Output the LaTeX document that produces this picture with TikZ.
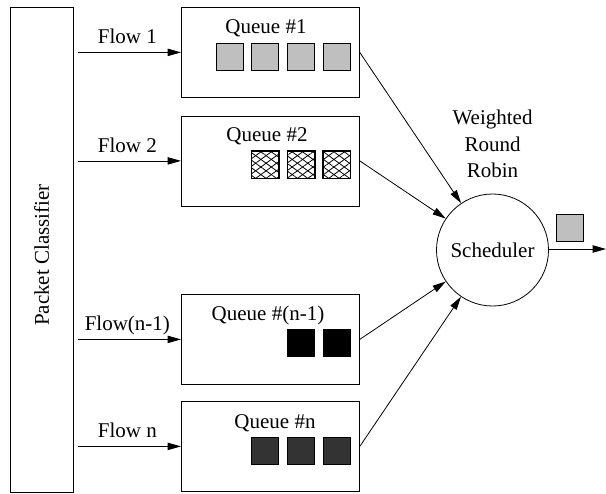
\documentclass[tikz,border=0pt]{standalone}
\usepackage{fontspec}
\setmainfont{Liberation Serif}
\usetikzlibrary{arrows.meta,patterns.meta}
\begin{document}
\begin{tikzpicture}[x=0.75pt,y=-0.75pt,
  font=\fontsize{15.75}{20}\selectfont,
  line width=0.6pt,
  qbox/.style={draw, minimum width=133.5pt, minimum height=67.5pt, inner sep=0pt, anchor=north west},
  pkt/.style={draw, minimum size=20.25pt, inner sep=0pt, line width=0.7pt},
  greypkt/.style={pkt, fill=black!25},
  blackpkt/.style={pkt, fill=black},
  darkpkt/.style={pkt, fill=black!80},
  flowarrow/.style={-{Triangle[length=10pt,width=5.5pt]}, shorten <=3pt},
  schedarrow/.style={-{Triangle[length=10pt,width=5.5pt]}},
  flowlabel/.style={anchor=base, inner sep=0pt},
  qlabel/.style={inner sep=0pt}
]
\useasboundingbox (0,0) rectangle (606,493);

% packet classifier
\node[draw, minimum width=47.25pt, minimum height=363.75pt, inner sep=0pt, anchor=north west] (cls) at (10,7) {};
\node[rotate=90] (clslabel) at (41.5,255) {Packet Classifier};

% queues
\node[qbox] (q1) at (181,7) {};
\node[qbox] (q2) at (181,115.5) {};
\node[qbox] (q3) at (181,294) {};
\node[qbox] (q4) at (181,401) {};

\node[qlabel] (q1label) at (266,28) {Queue \#1};
\node[qlabel] (q2label) at (267,136) {Queue \#2};
\node[qlabel] (q3label) at (268,315) {Queue \#(n-1)};
\node[qlabel] (q4label) at (275,423) {Queue \#n};

% queued packets
\node[greypkt] (a1) at (229.5,57) {};
\node[greypkt] (a2) at (265,57) {};
\node[greypkt] (a3) at (301,57) {};
\node[greypkt] (a4) at (336.5,57) {};

\foreach \px/\nm in {265/b1,301/b2,336.5/b3}{
  \node[pkt] (\nm) at (\px,164.5) {};
  \fill[pattern={Lines[angle=36,distance=4.6pt,line width=0.6pt]}] (\nm.south west) rectangle (\nm.north east);
  \fill[pattern={Lines[angle=-36,distance=4.6pt,line width=0.6pt]}] (\nm.south west) rectangle (\nm.north east);
  \draw[line width=0.7pt] (\nm.south west) rectangle (\nm.north east);
}

\node[blackpkt] (c1) at (301,343) {};
\node[blackpkt] (c2) at (336.5,343) {};

\node[darkpkt] (d1) at (265,450.5) {};
\node[darkpkt] (d2) at (301,450.5) {};
\node[darkpkt] (d3) at (336.5,450.5) {};

% flows from the classifier
\foreach \q/\lab in {q1/Flow 1, q2/Flow 2, q3/Flow(n-1), q4/Flow n}{
  \draw[flowarrow] (cls.east |- \q.west) -- (\q.west)
    coordinate[pos=0.5] (\q mid);
  \node[flowlabel] at ([yshift=6.4pt]\q mid) {\lab};
}

% scheduler
\node[draw, circle, minimum size=84pt, inner sep=0pt] (sch) at (492.5,250) {Scheduler};
\node[align=center, inner sep=0pt] (wrr) at (492.5,144) {Weighted\\Round\\Robin};

\foreach \q in {q1,q2,q3,q4}{
  \draw[schedarrow] (\q.east) -- (sch);
}

% output
\coordinate (out) at (606,249);
\draw[schedarrow] (sch.east |- out) -- (out);
\node[greypkt] (outpkt) at (570,227.5) {};

\end{tikzpicture}
\end{document}
